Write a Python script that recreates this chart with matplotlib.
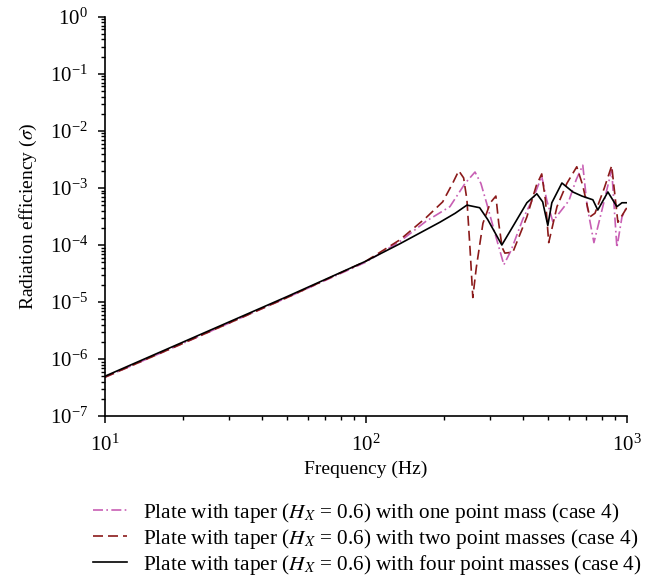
import matplotlib
matplotlib.use("Agg")
import matplotlib.pyplot as plt
from matplotlib.ticker import LogLocator, NullFormatter

plt.rcParams["font.family"] = ["Liberation Serif", "DejaVu Serif"]
plt.rcParams["mathtext.fontset"] = "stix"

# one point mass (dash-dot)
f_one = [10, 20, 50, 100, 135, 170, 210, 240, 262, 276, 290, 318, 338, 360, 399,
         440, 472, 493, 520, 560, 600, 640, 678, 705, 748, 809, 875, 916, 958, 1000]
s_one = [4.8e-7, 1.9e-6, 1.2e-5, 5.0e-5, 1.15e-4, 2.6e-4, 4.7e-4, 1.2e-3, 1.9e-3,
         1.2e-3, 5.5e-4, 1.2e-4, 4.5e-5, 8e-5, 2.8e-4, 7e-4, 1.6e-3, 6.2e-4, 2.6e-4,
         4.0e-4, 6e-4, 1.4e-3, 2.5e-3, 4.7e-4, 1.1e-4, 4.7e-4, 2.1e-3, 9e-5, 3.1e-4, 4.7e-4]

# two point masses (dashed)
f_two = [10, 20, 50, 100, 135, 170, 197, 215, 227, 237, 244, 251, 257, 265, 281,
         300, 315, 323, 333, 341, 366, 414, 450, 472, 488, 502, 540, 589, 643, 678,
         721, 755, 820, 875, 924, 1000]
s_two = [4.8e-7, 1.9e-6, 1.2e-5, 5.2e-5, 1.23e-4, 3.0e-4, 5.7e-4, 1.2e-3, 2.0e-3,
         1.5e-3, 6.2e-4, 8e-5, 1.2e-5, 4e-5, 2.4e-4, 5.5e-4, 7.2e-4, 2.4e-4, 9e-5,
         7.2e-5, 7.5e-5, 3.1e-4, 1.1e-3, 1.76e-3, 6e-4, 1.1e-4, 4.7e-4, 1.2e-3,
         2.35e-3, 1.1e-3, 3.1e-4, 3.6e-4, 1.0e-3, 2.45e-3, 2.5e-4, 4.5e-4]

# four point masses (solid)
f_four = [10, 20, 50, 100, 135, 192, 220, 244, 273, 293, 332, 370, 414, 452, 476,
          498, 516, 564, 621, 673, 741, 774, 846, 916, 958, 1000]
s_four = [5e-7, 2.0e-6, 1.25e-5, 5.2e-5, 1.05e-4, 2.5e-4, 3.6e-4, 5.0e-4, 4.5e-4,
          2.8e-4, 1.0e-4, 2.3e-4, 5.5e-4, 7.9e-4, 5.7e-4, 2.2e-4, 5.5e-4, 1.22e-3,
          8.5e-4, 7.2e-4, 6.2e-4, 4.1e-4, 8.5e-4, 4.7e-4, 5.5e-4, 5.5e-4]

labels = [
    r"Plate with taper ($H_X$ = 0.6) with one point mass (case 4)",
    r"Plate with taper ($H_X$ = 0.6) with two point masses (case 4)",
    r"Plate with taper ($H_X$ = 0.6) with four point masses (case 4)",
]

fig = plt.figure(figsize=(6.55, 5.78), dpi=100)
ax = fig.add_axes([0.160, 0.280, 0.797, 0.691])

ax.plot(f_one, s_one, color="#c85fb4", linewidth=1.2, dashes=(6, 2, 1, 2), label=labels[0])
ax.plot(f_two, s_two, color="#8b1a1a", linewidth=1.2, dashes=(6, 3), label=labels[1])
ax.plot(f_four, s_four, color="black", linewidth=1.2, label=labels[2])

ax.set_xscale("log")
ax.set_yscale("log")
ax.set_xlim(10, 1000)
ax.set_ylim(1e-7, 1e0)
ax.xaxis.set_major_locator(LogLocator(base=10, numticks=10))
ax.yaxis.set_major_locator(LogLocator(base=10, numticks=10))
ax.yaxis.set_minor_locator(LogLocator(base=10, subs=range(2, 10), numticks=20))
ax.xaxis.set_minor_locator(LogLocator(base=10, subs=range(2, 10), numticks=20))
ax.xaxis.set_minor_formatter(NullFormatter())
ax.yaxis.set_minor_formatter(NullFormatter())

for side in ["top", "right"]:
    ax.spines[side].set_visible(False)
ax.spines["left"].set_linewidth(1.2)
ax.spines["bottom"].set_linewidth(1.2)
ax.tick_params(which="major", direction="out", length=5, width=1.1, labelsize=15)
ax.tick_params(which="minor", direction="out", length=3, width=1.0)
ax.tick_params(axis="x", pad=8)
ax.tick_params(axis="y", pad=7)

ax.set_xlabel("Frequency (Hz)", fontsize=14, labelpad=4)
ax.set_ylabel(r"Radiation efficiency ($\sigma$)", fontsize=14, labelpad=8)

fig.legend(loc="upper left", bbox_to_anchor=(0.142, 0.134), frameon=False,
           fontsize=15.3, handlelength=1.6, handletextpad=0.75, labelspacing=0.1,
           borderpad=0.0, borderaxespad=0.0)

fig.savefig("out.png", dpi=100)
